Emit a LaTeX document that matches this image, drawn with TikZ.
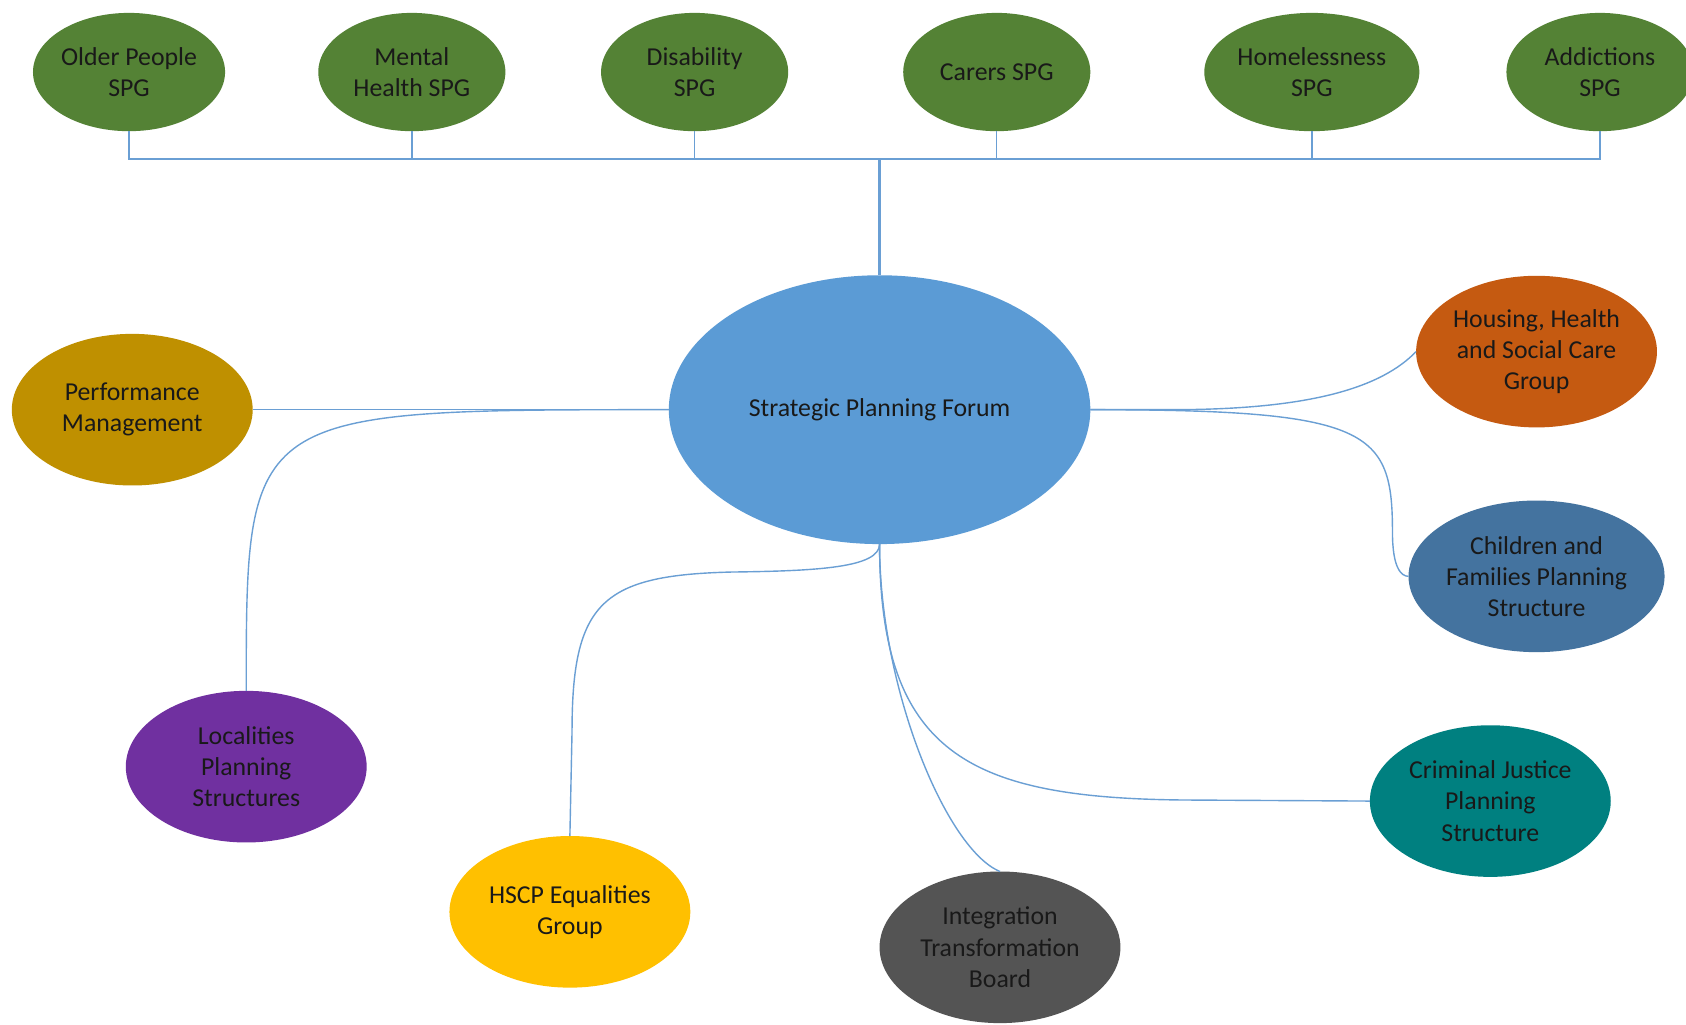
\documentclass[tikz,border=0pt]{standalone}
\usepackage{fontspec}
\setmainfont{Carlito}
\usetikzlibrary{shapes.geometric}
\definecolor{spggreen}{HTML}{548235}
\definecolor{spfblue}{HTML}{5B9BD5}
\definecolor{perfgold}{HTML}{BF9000}
\definecolor{houseorange}{HTML}{C55A11}
\definecolor{childblue}{HTML}{44739F}
\definecolor{locpurple}{HTML}{7030A0}
\definecolor{hscpyellow}{HTML}{FFC000}
\definecolor{intgray}{HTML}{545454}
\definecolor{crimteal}{HTML}{008080}
\definecolor{linkblue}{HTML}{6A9FD4}
\begin{document}
\begin{tikzpicture}[x=1pt,y=-1pt,
  bub/.style={ellipse, inner sep=0pt, outer sep=0pt, align=center, text=black!90,
    font=\fontsize{24}{29}\selectfont},
  topbub/.style={bub, fill=spggreen, minimum width=174pt, minimum height=110pt},
  sidebub/.style={bub, minimum width=224pt, minimum height=141pt},
  conn/.style={draw=linkblue, line width=1.3pt},
  trunk/.style={draw=linkblue, line width=2.6pt}
]
\useasboundingbox (0,0) rectangle (1568,953);
\fill[white] (0,0) rectangle (1568,953);

% top SPG bubbles
\node[topbub] (op) at (120,67) {Older People\\SPG};
\node[topbub] (mh) at (383,67) {Mental\\Health SPG};
\node[topbub] (di) at (646,67) {Disability\\SPG};
\node[topbub] (ca) at (927,67) {Carers SPG};
\node[topbub, minimum width=200pt] (ho) at (1220,67) {Homelessness\\SPG};
\node[topbub] (ad) at (1488,67) {Addictions\\SPG};

% central
\node[bub, fill=spfblue, minimum width=392pt, minimum height=250pt] (spf) at (818,381) {Strategic Planning Forum};

% side bubbles
\node[sidebub, fill=perfgold] (pm) at (123,381) {Performance\\Management};
\node[sidebub, fill=houseorange] (hh) at (1429,327) {Housing, Health\\and Social Care\\Group};
\node[sidebub, fill=childblue] (cf) at (1429,536) {Children and\\Families Planning\\Structure};
\node[sidebub, fill=locpurple] (lp) at (229,713) {Localities\\Planning\\Structures};
\node[sidebub, fill=hscpyellow] (eq) at (530,848) {HSCP Equalities\\Group};
\node[sidebub, fill=intgray] (it) at (930,881) {Integration\\Transformation\\Board};
\node[sidebub, fill=crimteal] (cj) at (1386,745) {Criminal Justice\\Planning\\Structure};

% bus
\coordinate (bus) at (818,148);
\foreach \n in {op,mh,di,ca,ho,ad} \draw[conn] (\n.south) |- (bus);
\draw[trunk] (bus) -- (spf.north);

% left connectors
\draw[conn] (pm.east) -- (spf.west);
\draw[conn] (spf.west) .. controls (lp.north |- spf.west) and (lp.north |- spf.west) .. (lp.north);

% right connectors
\draw[conn] (spf.east) -- (1090,381) .. controls (1220,381) and (1285,360) .. (hh.west);
\draw[conn] (spf.east) .. controls (1275,381) and (1295,400) .. (1295,495)
  .. controls (1295,528) and (1303,536) .. (cf.west);

% bottom connectors
\draw[conn] (spf.south) .. controls (818,528) and (760,531) .. (680,532)
  .. controls (560,535) and (532,560) .. (532,680) -- (eq.north);
\draw[conn] (spf.south) .. controls (818,640) and (880,790) .. (it.north);
\draw[conn] (spf.south) .. controls (818,700) and (900,742) .. (1100,744) -- (cj.west);
\end{tikzpicture}
\end{document}
